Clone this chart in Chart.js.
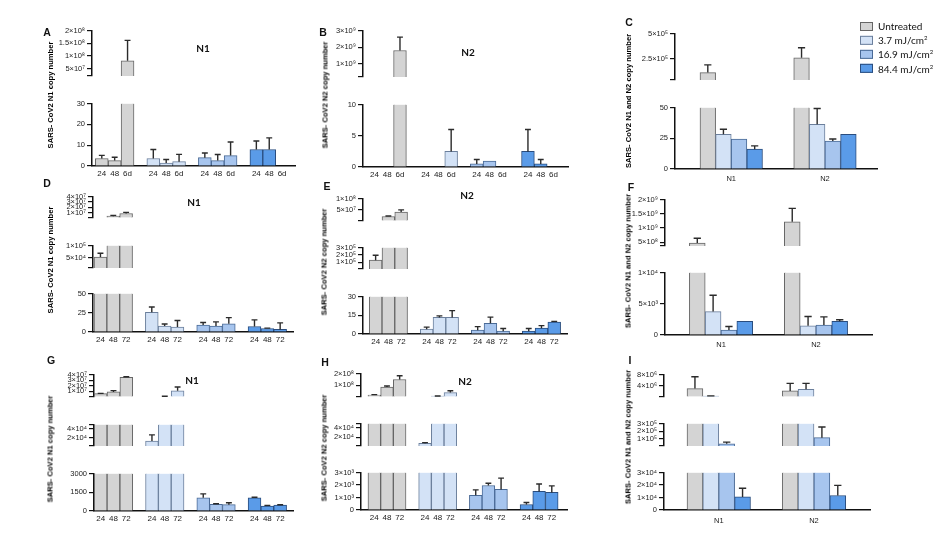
<!DOCTYPE html>
<html>
<head>
<meta charset="utf-8">
<script src="https://cdn.jsdelivr.net/npm/chart.js@4.4.0/dist/chart.umd.min.js"></script>
<style>
  body { margin: 0; background: #fff; }
  #fig { position: relative; width: 952px; height: 534px; overflow: hidden; font-family: 'Liberation Sans', Arial, sans-serif; color: #111; }
  .seg { position: absolute; }
  .letter { position: absolute; font: bold 10.5px 'Liberation Sans', Arial, sans-serif; transform: translate(-50%, -50%); }
  .title { position: absolute; font: bold 10px Lato, 'Open Sans', sans-serif; transform: translate(-50%, -50%); }
  .ylab { position: absolute; font: bold 7.6px 'Liberation Sans', Arial, sans-serif; color: #000; white-space: nowrap; transform: translate(-50%, -50%) rotate(-90deg); }
  .leg { position: absolute; left: 860px; font: 10px Lato, 'Open Sans', sans-serif; white-space: nowrap; display: flex; align-items: center; transform: translateY(-50%); }
  .leg span.sw { display: inline-block; width: 11px; height: 7px; margin-right: 5px; border: 1px solid #777; }
  .leg sup { font-size: 6px; }
</style>
</head>
<body>
<div id="fig"></div>
<script>
// ---- data ----
const treatments = ['Untreated', '3.7 mJ/cm²', '16.9 mJ/cm²', '84.4 mJ/cm²'];
const timesA = ['24', '48', '6d'];
const times = ['24', '48', '72'];
const genes = ['N1', 'N2'];

// time-course panels: [Untreated 24,48,t3 | 3.7 ... | 16.9 ... | 84.4 ...]
const aValues = [3.6, 2.6, 8.1e7, 3.6, 1.45, 2.1, 4.0, 2.6, 5.0, 7.9, 7.9, 0];
const aSD     = [1.5, 1.6, 8.0e7, 4.3, 1.65, 3.5, 2.25, 2.9, 6.5, 4.1, 5.6, 0];
const bValues = [0, 0, 1.8e9, 0, 0, 2.5, 0.5, 0.95, 0, 2.5, 0.5, 0];
const bSD     = [0, 0, 8.0e8, 0, 0, 3.5, 0.7, 0, 0, 3.5, 0.7, 0];
const dValues = [5.2e4, 3.4e6, 8.3e6, 25.6, 7.7, 6.4, 9.0, 7.7, 10.6, 7.2, 4.6, 3.4];
const dSD     = [1.6e4, 1.4e6, 2.1e6, 6.8, 2.6, 8.5, 3.3, 5.5, 8.1, 8.6, 0.4, 8.5];
const eValues = [1.3e5, 2.0e7, 3.95e7, 3.9, 13.3, 13.3, 3.1, 8.6, 2.3, 2.3, 4.7, 9.6];
const eSD     = [6.6e4, 2.0e6, 1.0e7, 1.6, 1.2, 5.4, 2.8, 4.9, 2.1, 2.1, 2.0, 0.5];
const gValues = [5.9e6, 9.0e6, 3.48e7, 1.21e4, 1.0e6, 1.11e7, 1058, 529, 505, 1058, 395, 474];
const gSD     = [6.0e5, 2.4e6, 1.1e6, 1.38e4, 3.0e5, 6.8e6, 316, 55, 158, 47, 55, 31];
const hValues = [1.7e7, 8.5e7, 1.49e8, 6.75e3, 7.0e6, 3.75e7, 1175, 1958, 1645, 439, 1488, 1410];
const hSD     = [3.0e6, 8.0e6, 3.2e7, 1.65e3, 1.6e6, 1.55e7, 438, 180, 908, 156, 595, 517];

// gene panels: [N1: Untreated, 3.7, 16.9, 84.4 | N2: Untreated, 3.7, 16.9, 84.4]
const cValues = [1.17e5, 28.2, 24.4, 16.1, 2.62e5, 36.3, 22.8, 28.2];
const cSD     = [7.5e4, 4.1, 0, 2.7, 9.8e4, 12.9, 1.6, 0];
const fValues = [4.74e8, 3750, 800, 2200, 1.22e9, 1480, 1600, 2200];
const fSD     = [1.66e8, 2600, 570, 0, 4.7e8, 1470, 1300, 230];
const iValues = [2.98e6, 3.5e5, 3.8e4, 1.05e4, 2.15e6, 2.77e6, 1.17e5, 1.16e4];
const iSD     = [4.2e6, 6.0e4, 2.2e4, 6.9e3, 2.68e6, 2.06e6, 1.38e5, 8.1e3];

// broken y-axis segments, top segment first
const aRanges = [[2.1e7, 2e8], [0, 30]];
const bRanges = [[2.1e8, 3e9], [0, 10]];
const cRanges = [[4.4e4, 5e5], [0, 50]];
const dRanges = [[0, 4e7], [7e3, 1e5], [0, 50]];
const eRanges = [[0, 1e8], [1.1e4, 3e5], [0, 30]];
const fRanges = [[3.7e8, 2e9], [0, 1e4]];
const gRanges = [[0, 4e7], [1e3, 4.9e4], [0, 3000]];
const hRanges = [[0, 2e8], [1.25e3, 4.96e4], [0, 3000]];
const iRanges = [[0, 8e6], [1e4, 3e5], [0, 3e4]];

// y tick labels per segment
const aTicks = [[[5e7, '5×10⁷'], [1e8, '1×10⁸'], [1.5e8, '1.5×10⁸'], [2e8, '2×10⁸']], [[0, '0'], [10, '10'], [20, '20'], [30, '30']]];
const bTicks = [[[1e9, '1×10⁹'], [2e9, '2×10⁹'], [3e9, '3×10⁹']], [[0, '0'], [5, '5'], [10, '10']]];
const cTicks = [[[2.5e5, '2.5×10⁵'], [5e5, '5×10⁵']], [[0, '0'], [25, '25'], [50, '50']]];
const dTicks = [[[1e7, '1×10⁷'], [2e7, '2×10⁷'], [3e7, '3×10⁷'], [4e7, '4×10⁷']], [[5e4, '5×10⁴'], [1e5, '1×10⁵']], [[0, '0'], [25, '25'], [50, '50']]];
const eTicks = [[[5e7, '5×10⁷'], [1e8, '1×10⁸']], [[1e5, '1×10⁵'], [2e5, '2×10⁵'], [3e5, '3×10⁵']], [[0, '0'], [15, '15'], [30, '30']]];
const fTicks = [[[5e8, '5×10⁸'], [1e9, '1×10⁹'], [1.5e9, '1.5×10⁹'], [2e9, '2×10⁹']], [[0, '0'], [5e3, '5×10³'], [1e4, '1×10⁴']]];
const gTicks = [[[1e7, '1×10⁷'], [2e7, '2×10⁷'], [3e7, '3×10⁷'], [4e7, '4×10⁷']], [[2e4, '2×10⁴'], [4e4, '4×10⁴']], [[0, '0'], [1500, '1500'], [3000, '3000']]];
const hTicks = [[[1e8, '1×10⁸'], [2e8, '2×10⁸']], [[2e4, '2×10⁴'], [4e4, '4×10⁴']], [[0, '0'], [1e3, '1×10³'], [2e3, '2×10³'], [3e3, '3×10³']]];
const iTicks = [[[4e6, '4×10⁶'], [8e6, '8×10⁶']], [[1e5, '1×10⁵'], [2e5, '2×10⁵'], [3e5, '3×10⁵']], [[0, '0'], [1e4, '1×10⁴'], [2e4, '2×10⁴'], [3e4, '3×10⁴']]];

// ---- styles ----
const fillColors = ['#d4d4d4', '#d3e2f6', '#a7c5ee', '#5a9be8'];
const edgeColors = ['#666666', '#6b7f9c', '#4a6a96', '#2a4d7e'];
const W = 46, PAD = 6, XH = 16;

// ---- layout of each panel (pixels) ----
const panels = [
  { letter: 'A', at: [47, 32], title: 'N1', titleAt: [203, 48], ylab: 'SARS- CoV2 N1 copy number', ylabAt: [50, 95],
    kind: 'time', labels: timesA, values: aValues, sd: aSD, ranges: aRanges, ticks: aTicks,
    axisX: 91.7, right: 295, segPx: [[30, 92.3], [103.3, 165.7]], xMin: -0.76, xMax: 15.0, xPad: 3 },
  { letter: 'B', at: [323, 32], title: 'N2', titleAt: [468, 52], ylab: 'SARS- CoV2 N2 copy number', ylabAt: [325, 95],
    kind: 'time', labels: timesA, values: bValues, sd: bSD, ranges: bRanges, ticks: bTicks,
    axisX: 363.3, right: 568.3, segPx: [[30, 93.3], [104, 167.3]], xMin: -0.89, xMax: 15.13, xPad: 3 },
  { letter: 'C', at: [629, 22], ylab: 'SARS- CoV2 N1 and N2 copy number', ylabAt: [628, 101],
    kind: 'gene', values: cValues, sd: cSD, ranges: cRanges, ticks: cTicks,
    axisX: 675, right: 876.7, segPx: [[33.3, 96], [107.3, 169.3]], xMin: -2.1, xMax: 10.83, xPad: 5 },
  { letter: 'D', at: [47, 183], title: 'N1', titleAt: [194, 202], ylab: 'SARS- CoV2 N1 copy number', ylabAt: [50, 260],
    kind: 'time', labels: times, values: dValues, sd: dSD, ranges: dRanges, ticks: dTicks,
    axisX: 93.3, right: 293.3, segPx: [[195.7, 234.3], [245, 284], [293.3, 332.3]], xMin: -0.58, xMax: 15.0, xPad: 3 },
  { letter: 'E', at: [327, 186], title: 'N2', titleAt: [467, 195], ylab: 'SARS- CoV2 N2 copy number', ylabAt: [324, 262],
    kind: 'time', labels: times, values: eValues, sd: eSD, ranges: eRanges, ticks: eTicks,
    axisX: 362.7, right: 567.3, segPx: [[197.7, 236.7], [247, 285], [296, 334.3]], xMin: -0.99, xMax: 15.0, xPad: 3 },
  { letter: 'F', at: [631, 187], ylab: 'SARS- CoV2 N1 and N2 copy number', ylabAt: [628, 261],
    kind: 'gene', values: fValues, sd: fSD, ranges: fRanges, ticks: fTicks,
    axisX: 665, right: 871.7, segPx: [[199.3, 262.3], [272.3, 335.3]], xMin: -2.04, xMax: 11.04, xPad: 5 },
  { letter: 'G', at: [51, 360], title: 'N1', titleAt: [192, 380], ylab: 'SARS- CoV2 N1 copy number', ylabAt: [50, 449],
    kind: 'time', labels: times, values: gValues, sd: gSD, ranges: gRanges, ticks: gTicks,
    axisX: 94, right: 293.3, segPx: [[374.3, 413], [423.7, 462.3], [472.7, 510.7]], xMin: -0.52, xMax: 15.0, xPad: 3 },
  { letter: 'H', at: [325, 362], title: 'N2', titleAt: [465, 381], ylab: 'SARS- CoV2 N2 copy number', ylabAt: [324, 448],
    kind: 'time', labels: times, values: hValues, sd: hSD, ranges: hRanges, ticks: hTicks,
    axisX: 360.7, right: 566.7, segPx: [[373.3, 412.7], [423, 461.7], [472, 510.3]], xMin: -1.05, xMax: 15.2, xPad: 3 },
  { letter: 'I', at: [630, 360], ylab: 'SARS- CoV2 N1 and N2 copy number', ylabAt: [628, 437],
    kind: 'gene', values: iValues, sd: iSD, ranges: iRanges, ticks: iTicks,
    axisX: 664.3, right: 870, segPx: [[374, 412.7], [422.7, 461.7], [472, 510]], xMin: -1.95, xMax: 11.03, xPad: 6 }
];

const fig = document.getElementById('fig');

// draws the one-sided SD bars in the segment where the bar top lies
const errorBars = {
  id: 'errorBars',
  afterDatasetsDraw(chart) {
    const seg = chart.config.options.plugins.errorBars;
    const xs = chart.scales.x, ys = chart.scales.y, ctx = chart.ctx;
    const barW = Math.abs(xs.getPixelForValue(1) - xs.getPixelForValue(0));
    ctx.save();
    ctx.strokeStyle = '#2b2b2b';
    ctx.lineWidth = 1.4;
    seg.values.forEach((v, i) => {
      const s = seg.sd[i];
      if (!(s > 0) || !(v > seg.thr) || v > seg.hi) return;
      const x = xs.getPixelForValue(seg.pos(i));
      const y0 = ys.getPixelForValue(v);
      const y1 = ys.getPixelForValue(Math.min(v + s, seg.hi));
      const cap = barW * 0.23;
      ctx.beginPath();
      ctx.moveTo(x, y0); ctx.lineTo(x, y1);
      ctx.moveTo(x - cap, y1); ctx.lineTo(x + cap, y1);
      ctx.stroke();
    });
    ctx.restore();
  }
};

function buildSegment(p, k) {
  const [lo, hi] = p.ranges[k];
  const isBottom = k === p.ranges.length - 1;
  const thr = isBottom ? 0 : p.ranges[k + 1][1];
  const gene = p.kind === 'gene';
  const pos = i => gene ? Math.floor(i / 4) * 6 + (i % 4) : Math.floor(i / 3) * 4 + (i % 3);
  const grp = i => gene ? i % 4 : Math.floor(i / 3);
  const shown = v => v > thr && (isBottom || v > lo);

  const data = p.values.map((v, i) => ({ x: pos(i), y: shown(v) ? Math.min(v, hi) : null }));

  // y ticks, with unlabeled caps at the segment ends
  const yTicks = p.ticks[k].slice();
  if (!yTicks.some(t => t[0] === lo)) yTicks.push([lo, '']);
  if (!yTicks.some(t => t[0] === hi)) yTicks.push([hi, '']);
  yTicks.sort((a, b) => a[0] - b[0]);
  const yMap = new Map(yTicks);

  const xTicks = gene ? [[1.5, genes[0]], [7.5, genes[1]]] : p.values.map((v, i) => [pos(i), p.labels[i % 3]]);
  const xMap = new Map(xTicks);

  const ax = Math.round(p.axisX), rx = Math.round(p.right);
  const t = Math.round(p.segPx[k][0]), b = Math.round(p.segPx[k][1]);
  const box = document.createElement('div');
  box.className = 'seg';
  box.style.left = (ax - W) + 'px';
  box.style.top = (t - PAD) + 'px';
  const canvas = document.createElement('canvas');
  canvas.width = rx - ax + W + 1;
  canvas.height = (b - t) + PAD + (isBottom ? XH : PAD);
  box.appendChild(canvas);
  fig.appendChild(box);

  new Chart(canvas.getContext('2d'), {
    type: 'bar',
    data: {
      datasets: [{
        data: data,
        backgroundColor: data.map((d, i) => fillColors[grp(i)]),
        borderColor: data.map((d, i) => edgeColors[grp(i)]),
        borderWidth: ctx => {
          const v = p.values[ctx.dataIndex];
          return { top: v > hi ? 0 : 1, left: 1, right: 1, bottom: 0 };
        },
        borderSkipped: 'start',
        barPercentage: 1,
        categoryPercentage: 1
      }]
    },
    options: {
      responsive: false,
      animation: false,
      events: [],
      layout: { padding: { top: PAD, bottom: isBottom ? 0 : PAD, left: 0, right: 1 } },
      plugins: {
        legend: { display: false },
        tooltip: { enabled: false },
        errorBars: { values: p.values, sd: p.sd, thr: thr, hi: hi, pos: pos }
      },
      scales: {
        x: {
          type: 'linear', min: p.xMin, max: p.xMax, offset: false, display: isBottom,
          afterBuildTicks: s => { s.ticks = xTicks.map(tk => ({ value: tk[0] })); },
          afterFit: s => { s.height = XH; },
          ticks: {
            autoSkip: false, maxRotation: 0, minRotation: 0, padding: p.xPad, color: '#222',
            font: { size: gene ? 7.5 : 8, family: "'Liberation Sans', Arial, sans-serif" },
            callback: v => xMap.has(v) ? xMap.get(v) : ''
          },
          grid: { display: false, drawTicks: false, offset: false },
          border: { display: true, color: '#111', width: 1.5 }
        },
        y: {
          type: 'linear', min: lo, max: hi,
          afterBuildTicks: s => { s.ticks = yTicks.map(tk => ({ value: tk[0] })); },
          afterFit: s => { s.width = W; },
          ticks: {
            autoSkip: false, padding: 2, color: '#222',
            font: { size: 7.5, family: "'Liberation Sans', Arial, sans-serif" },
            callback: v => yMap.has(v) ? yMap.get(v) : ''
          },
          grid: { display: true, drawOnChartArea: false, drawTicks: true, tickLength: 5, color: '#111', lineWidth: 1.2 },
          border: { display: true, color: '#111', width: 1.5 }
        }
      }
    },
    plugins: [errorBars]
  });
}

function addText(cls, text, x, y) {
  const el = document.createElement('div');
  el.className = cls;
  el.textContent = text;
  el.style.left = x + 'px';
  el.style.top = y + 'px';
  fig.appendChild(el);
}

panels.forEach(p => {
  p.ranges.forEach((r, k) => buildSegment(p, k));
  addText('letter', p.letter, p.at[0], p.at[1]);
  if (p.title) addText('title', p.title, p.titleAt[0], p.titleAt[1]);
  addText('ylab', p.ylab, p.ylabAt[0], p.ylabAt[1]);
});

// legend
const legendRows = [26, 40.3, 54, 68.7];
treatments.forEach((name, i) => {
  const row = document.createElement('div');
  row.className = 'leg';
  row.style.top = legendRows[i] + 'px';
  const sw = document.createElement('span');
  sw.className = 'sw';
  sw.style.background = fillColors[i];
  sw.style.borderColor = edgeColors[i];
  row.appendChild(sw);
  const label = document.createElement('span');
  if (name.endsWith('²')) {
    label.textContent = name.slice(0, -1);
    const sup = document.createElement('sup');
    sup.textContent = '2';
    label.appendChild(sup);
  } else {
    label.textContent = name;
  }
  row.appendChild(label);
  fig.appendChild(row);
});
</script>
</body>
</html>
